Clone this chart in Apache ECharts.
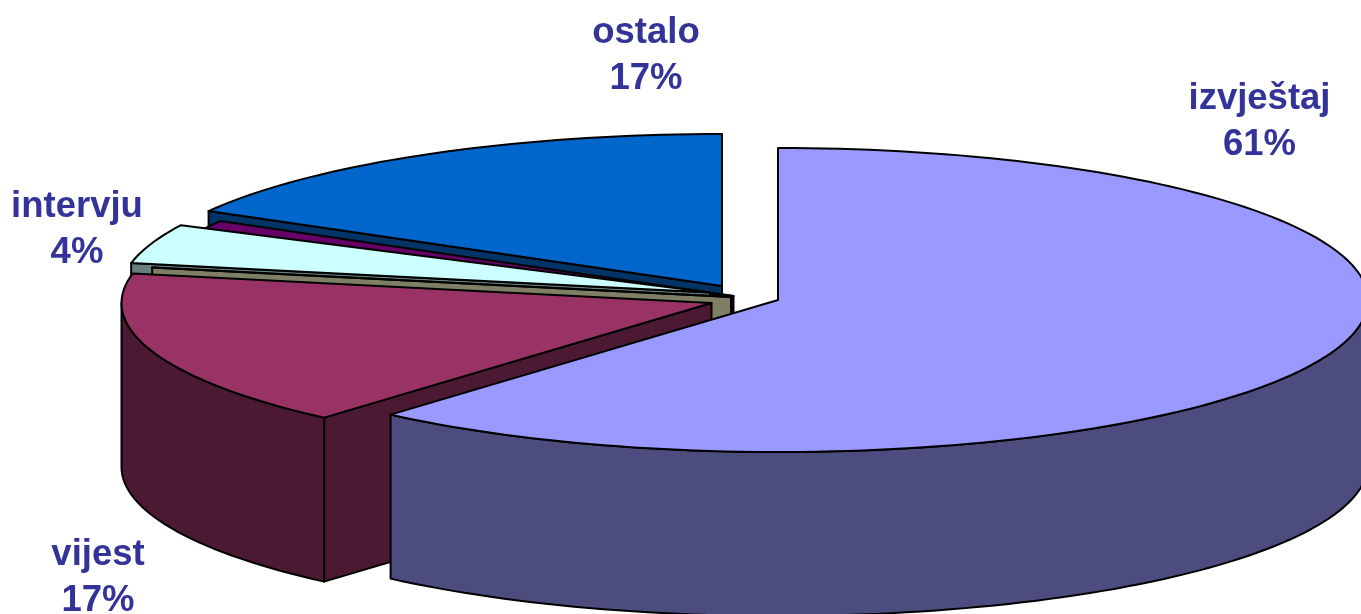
<!DOCTYPE html>
<html>
<head>
<meta charset="utf-8">
<style>html,body{margin:0;padding:0;background:#fff}#c{width:1361px;height:614px}</style>
<script src="https://cdn.jsdelivr.net/npm/echarts@6/dist/echarts.min.js"></script>
</head>
<body>
<div id="c"></div>
<script>
// Data (share of the pie, percent)
var categories = ['izvještaj', 'vijest', '', 'intervju', '', 'ostalo'];
var sliceValues = [61.4, 16.7, 0, 4.2, 0.9, 16.8];
var percentLabels = ['61%', '17%', '', '4%', '', '17%'];
var topColors = ['#9999FF', '#993366', '#FFFFCC', '#CCFFFF', '#660066', '#0066CC'];
var sideColors = ['#4C4C7F', '#4C1933', '#7F7F66', '#667F7F', '#330033', '#003366'];

// Layout of the projected pie (not data)
var layout = {
  rx: 590, ry: 152, depth: 164,
  apex: [[778, 300], [711.5, 303], [731, 297], [710, 292.5], [733.5, 296], [722, 286]],
  labelAt: [[1259.5, 121.5], [98, 578], null, [77, 230], null, [646, 56]],
  drawOrder: [5, 4, 3, 2, 1, 0]
};

var total = sliceValues.reduce(function (a, b) { return a + b; }, 0);
var startAngles = [];
sliceValues.reduce(function (acc, v, i) { startAngles[i] = acc; return acc + v / total * 360; }, 0);

function rimPoint(i, deg, drop) {
  var r = deg * Math.PI / 180, c = layout.apex[i];
  return [c[0] + layout.rx * Math.sin(r), c[1] - layout.ry * Math.cos(r) + (drop || 0)];
}
function arc(i, from, to, drop) {
  var pts = [], n = Math.max(1, Math.ceil(Math.abs(to - from) / 1.5));
  for (var k = 0; k <= n; k++) pts.push(rimPoint(i, from + (to - from) * k / n, drop));
  return pts;
}

function renderItem(params, api) {
  var i = layout.drawOrder[api.value(0)];
  var a0 = startAngles[i], a1 = a0 + sliceValues[i] / total * 360;
  var c = layout.apex[i], h = layout.depth;
  var project = function (p) { return api.coord(p); };
  var line = { stroke: '#000', lineWidth: 2, lineJoin: 'round' };
  var poly = function (pts, fill) {
    return { type: 'polygon', shape: { points: pts.map(project) },
      style: Object.assign({ fill: fill }, line) };
  };
  var children = [];
  // Radial walls: only those that face the viewer are drawn
  if (Math.sin(a0 * Math.PI / 180) < -1e-6) {
    children.push(poly([c, rimPoint(i, a0), rimPoint(i, a0, h), [c[0], c[1] + h]], sideColors[i]));
  }
  if (Math.sin(a1 * Math.PI / 180) > 1e-6) {
    children.push(poly([c, rimPoint(i, a1), rimPoint(i, a1, h), [c[0], c[1] + h]], sideColors[i]));
  }
  var s0 = Math.max(a0, 90), s1 = Math.min(a1, 270);
  if (s1 > s0) {
    children.push(poly(arc(i, s0, s1, 0).concat(arc(i, s1, s0, h)), sideColors[i]));
  }
  children.push(poly([c].concat(arc(i, a0, a1, 0)), topColors[i]));
  return { type: 'group', children: children };
}

function renderLabel(params, api) {
  var i = api.value(0);
  var at = layout.labelAt[i];
  if (!at) return null;
  var p = api.coord(at);
  return { type: 'text', style: {
    x: p[0], y: p[1], text: categories[i] + '\n' + percentLabels[i],
    fill: '#333399', font: 'bold 36.5px "Liberation Sans", Arial, sans-serif',
    lineHeight: 46, align: 'center', verticalAlign: 'middle'
  } };
}

var chart = echarts.init(document.getElementById('c'), null, { renderer: 'canvas' });
chart.setOption({
  animation: false,
  backgroundColor: '#fff',
  grid: { left: 0, right: 0, top: 0, bottom: 0 },
  xAxis: { type: 'value', min: 0, max: 1361, show: false },
  yAxis: { type: 'value', min: 0, max: 614, inverse: true, show: false },
  series: [
    { type: 'custom', silent: true, clip: false, renderItem: renderItem,
      data: layout.drawOrder.map(function (_, k) { return [k]; }), encode: { x: 0, y: 0 }, z: 2 },
    { type: 'custom', silent: true, clip: false, renderItem: renderLabel,
      data: sliceValues.map(function (_, k) { return [k]; }), encode: { x: 0, y: 0 }, z: 3 }
  ]
});
</script>
</body>
</html>
